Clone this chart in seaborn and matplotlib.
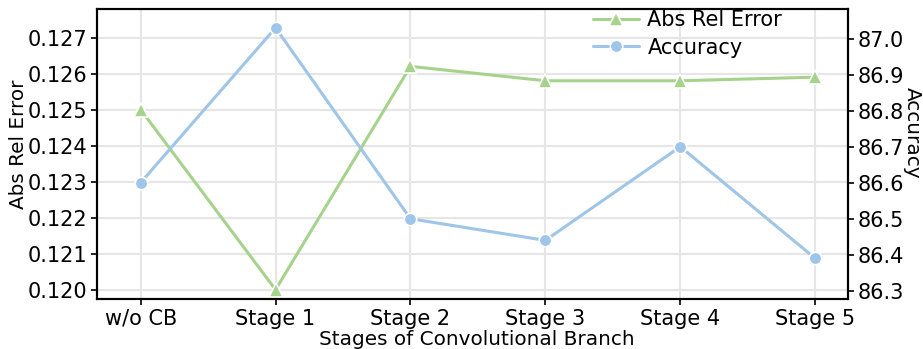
import matplotlib
matplotlib.use("Agg")
import matplotlib.pyplot as plt
import seaborn as sns
import pandas as pd
from matplotlib.lines import Line2D

stages = ["w/o CB", "Stage 1", "Stage 2", "Stage 3", "Stage 4", "Stage 5"]
abs_rel_error = [0.1250, 0.1200, 0.1262, 0.1258, 0.1258, 0.1259]
accuracy = [86.60, 87.03, 86.50, 86.44, 86.70, 86.39]
left_ticks = [0.120, 0.121, 0.122, 0.123, 0.124, 0.125, 0.126, 0.127]
right_ticks = [86.3, 86.4, 86.5, 86.6, 86.7, 86.8, 86.9, 87.0]

green = "#a6d38c"
blue = "#9fc5e8"
fs = 15
lfs = 14.4

sns.set_theme(style="whitegrid")
plt.rcParams["font.family"] = ["DejaVu Sans"]
plt.rcParams["text.color"] = "black"
plt.rcParams["axes.labelcolor"] = "black"
plt.rcParams["xtick.color"] = "black"
plt.rcParams["ytick.color"] = "black"
plt.rcParams["axes.edgecolor"] = "black"
plt.rcParams["xtick.bottom"] = True
plt.rcParams["ytick.left"] = True

df = pd.DataFrame({"pos": range(len(stages)), "err": abs_rel_error, "acc": accuracy})

fig = plt.figure(figsize=(9.23, 3.49), dpi=100)
ax = fig.add_axes([0.105, 0.143, 0.814, 0.831])
ax2 = ax.twinx()

sns.lineplot(data=df, x="pos", y="err", ax=ax, color=green, marker="^",
             markersize=10, markeredgecolor="white", markeredgewidth=1.2,
             linewidth=2.2, legend=False)
sns.lineplot(data=df, x="pos", y="acc", ax=ax2, color=blue, marker="o",
             markersize=9, markeredgecolor="white", markeredgewidth=1.2,
             linewidth=2.2, legend=False)

ax.set_xlim(-0.324, 5.245)
ax.set_xticks(range(len(stages)))
ax.set_xticklabels(stages, fontsize=fs)
ax.set_ylim(0.11974, 0.12779)
ax.set_yticks(left_ticks)
ax.set_yticklabels([f"{t:.3f}" for t in left_ticks], fontsize=fs)
ax2.set_ylim(86.277, 87.082)
ax2.set_yticks(right_ticks)
ax2.set_yticklabels([f"{t:.1f}" for t in right_ticks], fontsize=fs)
ax2.grid(False)

ax.set_xlabel("Stages of Convolutional Branch", fontsize=lfs)
ax.xaxis.set_label_coords(0.506, -0.108)
ax.set_ylabel("Abs Rel Error", fontsize=lfs)
ax.yaxis.set_label_coords(-0.092, 0.535)
ax2.set_ylabel("Accuracy", fontsize=lfs, rotation=270, va="center")
ax2.yaxis.set_label_coords(1.0855, 0.572)

ax.grid(True, color="#e6e6e6", linewidth=1.5)
for a in (ax, ax2):
    for s in a.spines.values():
        s.set_color("black")
        s.set_linewidth(1.5)
    a.tick_params(axis="both", length=4, width=1.2, color="black", pad=3)
ax2.tick_params(axis="y", right=True)

handles = [
    Line2D([], [], color=green, marker="^", markersize=10, markeredgecolor="white",
           markeredgewidth=1.2, linewidth=2.2),
    Line2D([], [], color=blue, marker="o", markersize=9, markeredgecolor="white",
           markeredgewidth=1.2, linewidth=2.2),
]
ax2.legend(handles, ["Abs Rel Error", "Accuracy"], loc="upper right",
           bbox_to_anchor=(0.937, 1.06), frameon=False, fontsize=fs,
           handlelength=2.2, handletextpad=0.4, labelspacing=0.35)

fig.savefig("out.png", dpi=100)
